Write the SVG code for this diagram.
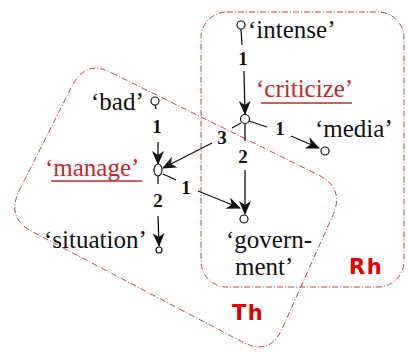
<svg xmlns="http://www.w3.org/2000/svg" width="409" height="354" viewBox="0 0 409 354">
<style>
.box{fill:none;stroke:#c83c3c;stroke-width:1;stroke-dasharray:6 2 1 2}
.w{font-family:'Liberation Serif',serif;font-size:25px;fill:#111}
.r{fill:#c0282d}
.ul{stroke:#c0282d;stroke-width:1.3}
.lab{font-family:'Liberation Serif',serif;font-size:19px;font-weight:bold;fill:#111;text-anchor:middle}
.big{font-family:"DejaVu Sans","Liberation Sans",sans-serif;font-size:21px;font-weight:bold;fill:#e00000;letter-spacing:1.5px}
.n{fill:#fff;stroke:#111;stroke-width:1.2}
.e{stroke:#111;stroke-width:1.3;fill:none}
.a{marker-end:url(#ah)}
</style>
<defs>
<marker id="ah" markerUnits="userSpaceOnUse" markerWidth="14" markerHeight="12" refX="13" refY="6" orient="auto">
<path d="M0,0 L14,6 L0,12 L4,6 z" fill="#111"/>
</marker>
</defs>
<g id="regions">
<rect id="Rh-box" class="box" x="201" y="12" width="203" height="275" rx="26"/>
<path id="Th-box" class="box" d="M112,73 L318.1,174.8 Q345,188 332.8,215.4 L282.2,328.6 Q270,356 243.2,342.4 L32.8,232 Q6,218 19,191 L72,86 Q86,59 112,73 Z"/>
<text class="big" x="349" y="274">Rh</text>
<text class="big" x="232" y="320">Th</text>
</g>
<g id="connectors">
<line class="e" x1="241" y1="29" x2="242" y2="45"/>
<line class="e a" x1="244" y1="71" x2="245" y2="114"/>
<text class="lab" x="243" y="65">1</text>
<line class="e" x1="155" y1="105" x2="156" y2="109"/>
<line class="e a" x1="158" y1="142" x2="158" y2="164"/>
<text class="lab" x="157" y="133">1</text>
<line class="e" x1="158" y1="176" x2="158" y2="184"/>
<line class="e a" x1="158" y1="216" x2="159" y2="246"/>
<text class="lab" x="158" y="207">2</text>
<line class="e" x1="249" y1="121" x2="267" y2="127"/>
<line class="e a" x1="291" y1="136" x2="319" y2="148"/>
<text class="lab" x="280" y="135">1</text>
<line class="e" x1="241" y1="123" x2="232" y2="128"/>
<line class="e a" x1="212" y1="143" x2="163" y2="168"/>
<text class="lab" x="222" y="144">3</text>
<line class="e" x1="245" y1="124" x2="245" y2="141"/>
<line class="e a" x1="245" y1="170" x2="245" y2="214"/>
<text class="lab" x="243" y="163">2</text>
<line class="e" x1="163" y1="174" x2="176" y2="180"/>
<line class="e a" x1="198" y1="191" x2="240" y2="208"/>
<text class="lab" x="186" y="194">1</text>
</g>
<g id="intense"><circle class="n" cx="241" cy="25" r="4"/><text class="w" x="248" y="38">‘intense’</text></g>
<g id="criticize"><circle class="n" cx="245" cy="119" r="4.5"/><text class="w r" x="256" y="97">‘criticize’</text><line class="ul" x1="261" y1="103" x2="352" y2="103"/></g>
<g id="media"><circle class="n" cx="325" cy="151" r="4"/><text class="w" x="315" y="137">‘media’</text></g>
<g id="bad"><circle class="n" cx="155" cy="101" r="4"/><text class="w" x="91" y="110">‘bad’</text></g>
<g id="manage"><ellipse class="n" cx="158" cy="170" rx="4" ry="6"/><text class="w r" x="45" y="176">‘manage’</text><line class="ul" x1="51" y1="181" x2="142" y2="181"/></g>
<g id="situation"><circle class="n" cx="159" cy="250" r="3"/><text class="w" x="44" y="248">‘situation’</text></g>
<g id="government"><circle class="n" cx="244" cy="219" r="4"/><text class="w" x="226" y="248">‘govern-</text><text class="w" x="235" y="275">ment’</text></g>
</svg>
